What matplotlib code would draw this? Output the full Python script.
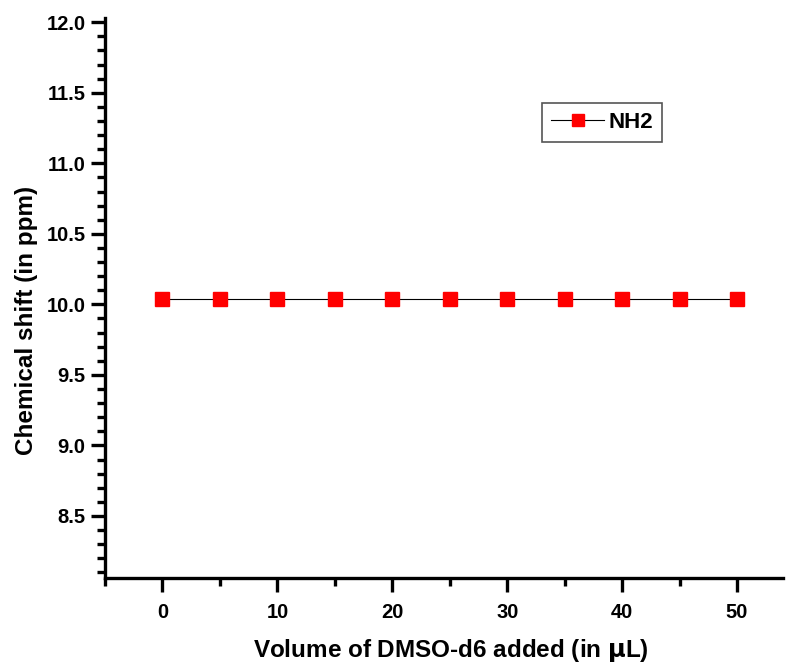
import matplotlib
matplotlib.use("Agg")
import matplotlib.pyplot as plt
from matplotlib.ticker import MultipleLocator

plt.rcParams['font.family'] = ['Liberation Sans', 'DejaVu Sans']
plt.rcParams['font.weight'] = 'bold'

# Data
volume = [0, 5, 10, 15, 20, 25, 30, 35, 40, 45, 50]
shift_nh2 = [10.04, 10.04, 10.04, 10.04, 10.04, 10.04, 10.04, 10.04, 10.04, 10.04, 10.04]
ytick_vals = [8.5, 9.0, 9.5, 10.0, 10.5, 11.0, 11.5, 12.0]

fig = plt.figure(figsize=(7.86, 6.63), dpi=100)
ax = fig.add_axes([0.1336, 0.1282, 0.8626, 0.8446])

ax.plot(volume, shift_nh2, color='black', lw=0.8, marker='s', ms=10,
        mfc='red', mec='red', label='NH2')

ax.set_xlim(-5, 54)
ax.set_ylim(8.06, 12.03)
ax.xaxis.set_major_locator(MultipleLocator(10))
ax.xaxis.set_minor_locator(MultipleLocator(5))
ax.yaxis.set_minor_locator(MultipleLocator(0.1))
ax.set_yticks(ytick_vals)
ax.set_yticklabels([f"{v:.1f}" for v in ytick_vals])

for s in ['top', 'right']:
    ax.spines[s].set_visible(False)
for s in ['left', 'bottom']:
    ax.spines[s].set_linewidth(2.4)

ax.tick_params(which='major', direction='out', length=10, width=2.4, labelsize=14.5)
ax.tick_params(which='minor', direction='out', length=5.5, width=2.4)
ax.tick_params(axis='x', which='major', pad=8)
ax.tick_params(axis='y', which='major', pad=4)

ax.set_xlabel('Volume of DMSO-d6 added (in $\\mathbf{\\mu}$L)', fontsize=17.5, fontweight='bold')
ax.set_ylabel('Chemical shift (in ppm)', fontsize=17.5, fontweight='bold')
ax.xaxis.set_label_coords(0.51, -0.105)
ax.yaxis.set_label_coords(-0.099, 0.46)

leg = ax.legend(loc='upper left', bbox_to_anchor=(0.6445, 0.848), fontsize=16,
                fancybox=False, edgecolor='#555555', framealpha=1,
                handlelength=2.4, handletextpad=0.2, borderpad=0.4,
                borderaxespad=0, markerscale=0.85)
leg.get_frame().set_linewidth(1.2)

fig.savefig('out.png', dpi=100)
